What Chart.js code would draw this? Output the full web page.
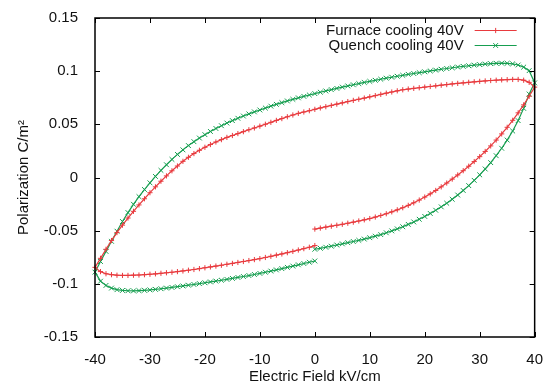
<!DOCTYPE html>
<html>
<head>
<meta charset="utf-8">
<script src="https://cdn.jsdelivr.net/npm/chart.js@4/dist/chart.umd.min.js"></script>
<style>
  html, body { margin: 0; padding: 0; background: #fff; }
  canvas { display: block; }
</style>
</head>
<body>
<canvas id="loop" width="549" height="387"></canvas>
<script>
// Field sweep, kV/cm: 0 -> +40 -> -40 -> 0
const fieldKV = [
  0, 1, 2, 3, 4, 5, 6, 7, 8, 9, 10, 11, 12, 13, 14, 15, 16, 17, 18, 19, 20,
  21, 22, 23, 24, 25, 26, 27, 28, 29, 30, 31, 32, 33, 34, 35, 36, 37, 38, 39, 40,
  39, 38, 37, 36, 35, 34, 33, 32, 31, 30, 29, 28, 27, 26, 25, 24, 23, 22, 21, 20,
  19, 18, 17, 16, 15, 14, 13, 12, 11, 10, 9, 8, 7, 6, 5, 4, 3, 2, 1, 0,
  -1, -2, -3, -4, -5, -6, -7, -8, -9, -10, -11, -12, -13, -14, -15, -16, -17, -18, -19, -20,
  -21, -22, -23, -24, -25, -26, -27, -28, -29, -30, -31, -32, -33, -34, -35, -36, -37, -38, -39, -40,
  -39, -38, -37, -36, -35, -34, -33, -32, -31, -30, -29, -28, -27, -26, -25, -24, -23, -22, -21, -20,
  -19, -18, -17, -16, -15, -14, -13, -12, -11, -10, -9, -8, -7, -6, -5, -4, -3, -2, -1, 0
];

// Polarization, C/m^2, furnace-cooled sample
const furnaceP = [
  -0.0485, -0.0476, -0.0467, -0.0458, -0.0449, -0.0440, -0.0430, -0.0420, -0.0409, -0.0398,
  -0.0386, -0.0372, -0.0357, -0.0341, -0.0323, -0.0304, -0.0284, -0.0262, -0.0238, -0.0212,
  -0.0184, -0.0154, -0.0122, -0.0088, -0.0052, -0.0015, 0.0024, 0.0064, 0.0106, 0.0150,
  0.0196, 0.0245, 0.0297, 0.0352, 0.0410, 0.0472, 0.0538, 0.0608, 0.0683, 0.0764, 0.0850,
  0.0895, 0.0915, 0.0922, 0.0922, 0.0920, 0.0918, 0.0915, 0.0912, 0.0908, 0.0904,
  0.0900, 0.0895, 0.0890, 0.0885, 0.0880, 0.0874, 0.0868, 0.0862, 0.0856, 0.0850,
  0.0844, 0.0838, 0.0832, 0.0825, 0.0815, 0.0804, 0.0793, 0.0782, 0.0770, 0.0759,
  0.0747, 0.0736, 0.0725, 0.0714, 0.0702, 0.0690, 0.0678, 0.0666, 0.0654, 0.0641,
  0.0628, 0.0616, 0.0603, 0.0588, 0.0571, 0.0554, 0.0537, 0.0519, 0.0501, 0.0483,
  0.0466, 0.0449, 0.0431, 0.0413, 0.0395, 0.0377, 0.0356, 0.0334, 0.0310, 0.0284,
  0.0256, 0.0225, 0.0190, 0.0152, 0.0108, 0.0063, 0.0015, -0.0035, -0.0088, -0.0143,
  -0.0200, -0.0258, -0.0318, -0.0381, -0.0448, -0.0518, -0.0593, -0.0675, -0.0760, -0.0845,
  -0.0885, -0.0905, -0.0914, -0.0919, -0.0921, -0.0921, -0.0919, -0.0917, -0.0914, -0.0910,
  -0.0906, -0.0901, -0.0896, -0.0891, -0.0885, -0.0879, -0.0872, -0.0865, -0.0857, -0.0849,
  -0.0841, -0.0833, -0.0825, -0.0816, -0.0808, -0.0799, -0.0790, -0.0781, -0.0772, -0.0763,
  -0.0752, -0.0741, -0.0730, -0.0719, -0.0707, -0.0695, -0.0682, -0.0669, -0.0656, -0.0640
];

// Polarization, C/m^2, quenched sample
const quenchP = [
  -0.0675, -0.0666, -0.0656, -0.0646, -0.0635, -0.0624, -0.0613, -0.0602, -0.0591, -0.0579,
  -0.0566, -0.0552, -0.0537, -0.0520, -0.0502, -0.0483, -0.0463, -0.0441, -0.0418, -0.0393,
  -0.0366, -0.0338, -0.0308, -0.0276, -0.0242, -0.0205, -0.0165, -0.0122, -0.0076, -0.0027,
  0.0025, 0.0080, 0.0140, 0.0205, 0.0275, 0.0352, 0.0437, 0.0535, 0.0650, 0.0785, 0.0890,
  0.1005, 0.1038, 0.1058, 0.1069, 0.1074, 0.1075, 0.1074, 0.1071, 0.1067, 0.1062,
  0.1057, 0.1051, 0.1045, 0.1039, 0.1032, 0.1025, 0.1018, 0.1010, 0.1002, 0.0994,
  0.0986, 0.0978, 0.0970, 0.0961, 0.0952, 0.0943, 0.0934, 0.0924, 0.0914, 0.0904,
  0.0894, 0.0883, 0.0872, 0.0861, 0.0850, 0.0838, 0.0826, 0.0814, 0.0802, 0.0789,
  0.0776, 0.0763, 0.0749, 0.0735, 0.0720, 0.0704, 0.0688, 0.0671, 0.0653, 0.0635,
  0.0617, 0.0598, 0.0578, 0.0557, 0.0535, 0.0512, 0.0487, 0.0461, 0.0433, 0.0403,
  0.0371, 0.0337, 0.0300, 0.0260, 0.0217, 0.0170, 0.0120, 0.0067, 0.0010, -0.0050,
  -0.0113, -0.0180, -0.0252, -0.0330, -0.0414, -0.0505, -0.0600, -0.0695, -0.0790, -0.0890,
  -0.0975, -0.1015, -0.1040, -0.1055, -0.1062, -0.1065, -0.1066, -0.1064, -0.1061, -0.1057,
  -0.1052, -0.1046, -0.1040, -0.1034, -0.1027, -0.1020, -0.1013, -0.1006, -0.0998, -0.0990,
  -0.0982, -0.0974, -0.0966, -0.0958, -0.0949, -0.0940, -0.0931, -0.0922, -0.0912, -0.0902,
  -0.0891, -0.0880, -0.0869, -0.0857, -0.0845, -0.0833, -0.0821, -0.0809, -0.0797, -0.0785
];

const seriesNames = ['Furnace cooling 40V', 'Quench cooling 40V'];
const xTicks = [-40, -30, -20, -10, 0, 10, 20, 30, 40];
const yTicks = [-0.15, -0.1, -0.05, 0, 0.05, 0.1, 0.15];
const yTickLabels = ['-0.15', '-0.1', '-0.05', '0', '0.05', '0.1', '0.15'];

const FONT = '"Liberation Sans", Arial, Helvetica, sans-serif';
const RED = 'rgb(232, 58, 62)';
const GREEN = 'rgb(22, 158, 80)';

const toPoints = (ys) => fieldKV.map((e, i) => ({ x: e, y: ys[i] }));

// Border box with inward tick marks on all four sides
const frameTicks = {
  id: 'frameTicks',
  afterDatasetsDraw(chart) {
    const { ctx, chartArea: a, scales: { x, y } } = chart;
    const L = 5;
    ctx.save();
    ctx.strokeStyle = '#000';
    ctx.lineWidth = 1;
    ctx.beginPath();
    xTicks.forEach(v => {
      const px = Math.round(x.getPixelForValue(v)) + 0.5;
      ctx.moveTo(px, a.bottom); ctx.lineTo(px, a.bottom - L);
      ctx.moveTo(px, a.top); ctx.lineTo(px, a.top + L);
    });
    yTicks.forEach(v => {
      const py = Math.round(y.getPixelForValue(v)) + 0.5;
      ctx.moveTo(a.left, py); ctx.lineTo(a.left + L, py);
      ctx.moveTo(a.right, py); ctx.lineTo(a.right - L, py);
    });
    ctx.stroke();
    ctx.lineWidth = 1.5;
    ctx.strokeRect(a.left, a.top, a.right - a.left, a.bottom - a.top);
    ctx.restore();
  }
};

// Key in the top-right corner: label, then a line sample with its marker
const lineKey = {
  id: 'lineKey',
  afterDatasetsDraw(chart) {
    const { ctx, chartArea: a } = chart;
    chart.data.datasets.forEach((ds, i) => {
      const yy = a.top + 12.5 + i * 15;
      ctx.save();
      ctx.font = '15px ' + FONT;
      ctx.fillStyle = '#111';
      ctx.textAlign = 'right';
      ctx.textBaseline = 'middle';
      ctx.fillText(ds.label, a.right - 71, yy);
      ctx.strokeStyle = ds.borderColor;
      ctx.fillStyle = ds.borderColor;
      ctx.lineWidth = ds.borderWidth;
      ctx.beginPath();
      ctx.moveTo(a.right - 60, yy);
      ctx.lineTo(a.right - 18, yy);
      ctx.stroke();
      ctx.lineWidth = 1;
      Chart.helpers.drawPoint(ctx, {
        pointStyle: ds.pointStyle, radius: ds.pointRadius, borderWidth: 1, rotation: 0
      }, a.right - 39, yy);
      ctx.restore();
    });
  }
};

new Chart(document.getElementById('loop'), {
  type: 'scatter',
  data: {
    datasets: [
      {
        label: seriesNames[0],
        data: toPoints(furnaceP),
        showLine: true,
        borderColor: RED,
        backgroundColor: RED,
        borderWidth: 1.2,
        pointStyle: 'cross',
        pointRadius: 2.6,
        pointBorderWidth: 1,
        pointBorderColor: RED,
        clip: 4
      },
      {
        label: seriesNames[1],
        data: toPoints(quenchP),
        showLine: true,
        borderColor: GREEN,
        backgroundColor: GREEN,
        borderWidth: 1.2,
        pointStyle: 'crossRot',
        pointRadius: 3.4,
        pointBorderWidth: 1,
        pointBorderColor: GREEN,
        clip: 4
      }
    ]
  },
  options: {
    responsive: false,
    animation: false,
    devicePixelRatio: 1,
    layout: { padding: { top: 17, right: 11, left: 0, bottom: 0 } },
    plugins: { legend: { display: false }, tooltip: { enabled: false } },
    scales: {
      x: {
        type: 'linear',
        min: -40, max: 40,
        grid: { display: false },
        border: { display: false },
        afterBuildTicks: (s) => { s.ticks = xTicks.map(v => ({ value: v })); },
        afterFit: (s) => { s.height = 50; },
        ticks: {
          padding: 6,
          color: '#111',
          font: { family: FONT, size: 15 },
          maxRotation: 0,
          callback: (v) => String(v)
        },
        title: {
          display: true,
          text: 'Electric Field kV/cm',
          color: '#111',
          font: { family: FONT, size: 15 },
          padding: { top: 0, bottom: 1 }
        }
      },
      y: {
        type: 'linear',
        min: -0.15, max: 0.15,
        grid: { display: false },
        border: { display: false },
        afterBuildTicks: (s) => { s.ticks = yTicks.map(v => ({ value: v })); },
        afterFit: (s) => { s.width = 95; },
        ticks: {
          padding: 9,
          color: '#111',
          font: { family: FONT, size: 15 },
          callback: (v, i) => yTickLabels[i]
        },
        title: {
          display: true,
          text: 'Polarization C/m\u00B2',
          color: '#111',
          font: { family: FONT, size: 15 },
          padding: { top: 15, bottom: 0 }
        }
      }
    }
  },
  plugins: [frameTicks, lineKey]
});
</script>
</body>
</html>
